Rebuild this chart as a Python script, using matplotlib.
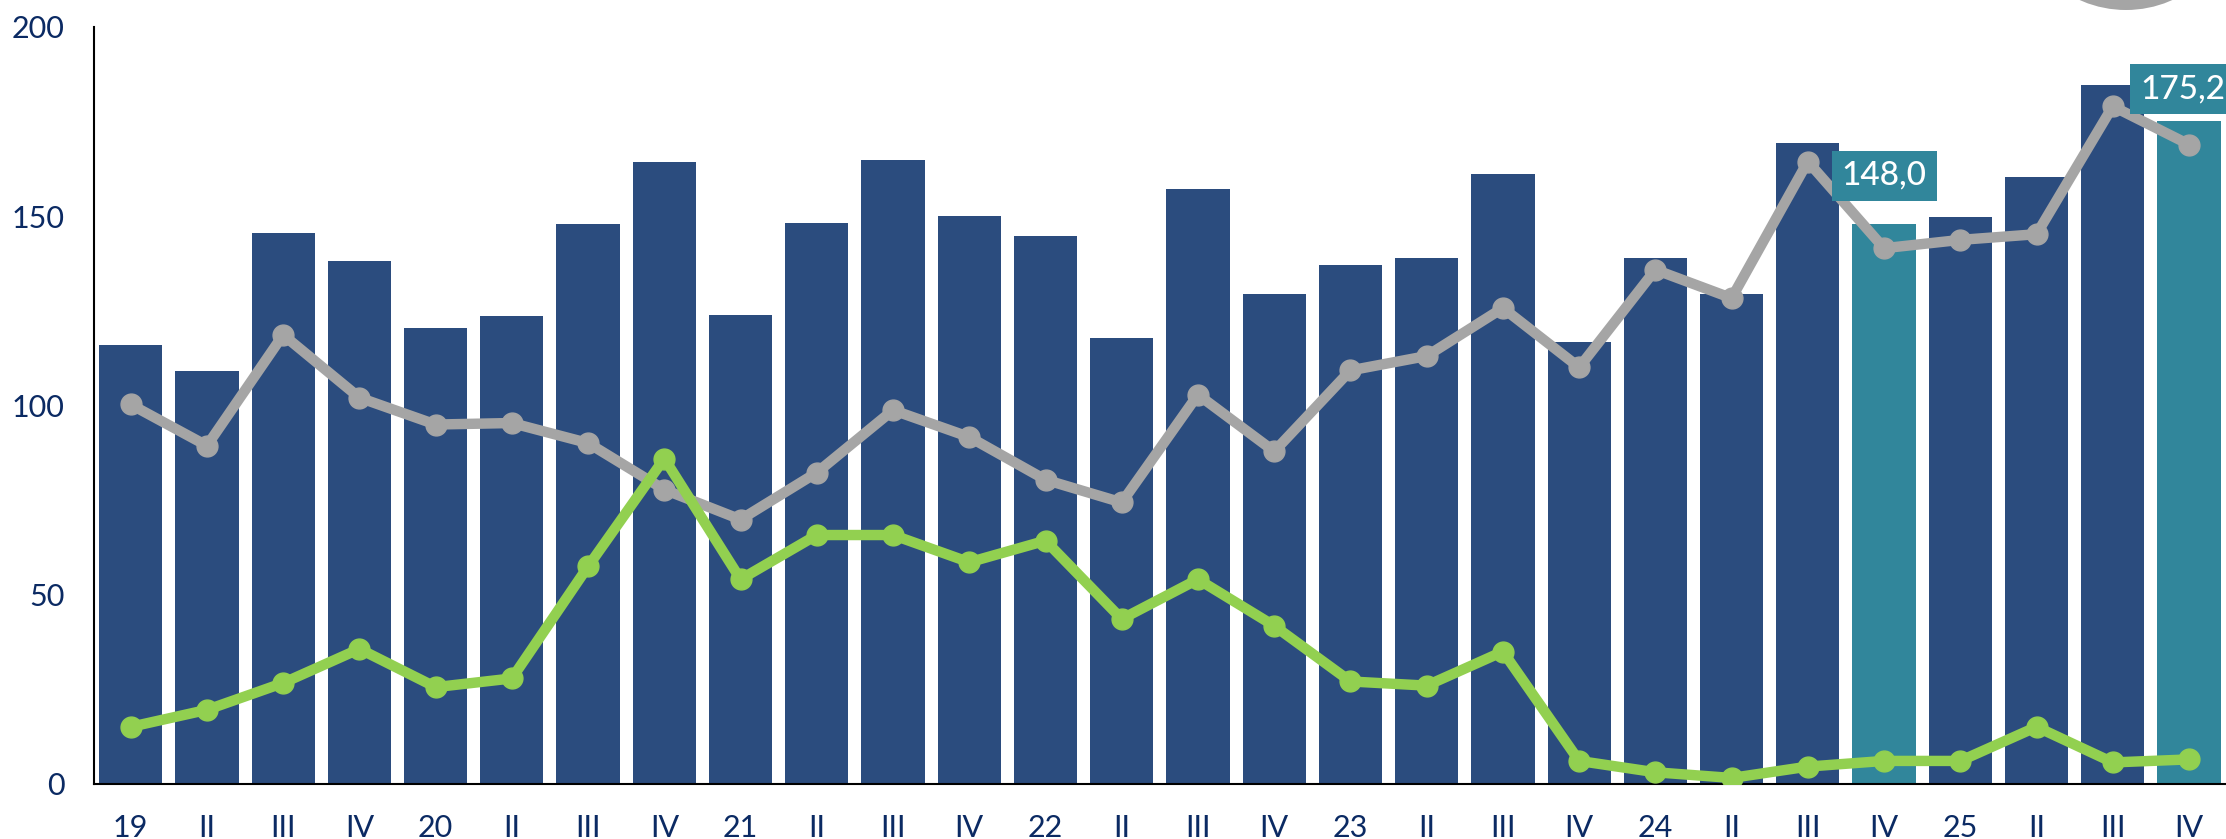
import matplotlib.pyplot as plt
from matplotlib.patches import Ellipse

# quarter labels
labels = ['19', 'II', 'III', 'IV', '20', 'II', 'III', 'IV', '21', 'II', 'III', 'IV',
          '22', 'II', 'III', 'IV', '23', 'II', 'III', 'IV', '24', 'II', 'III', 'IV',
          '25', 'II', 'III', 'IV']

# bar values
bars = [116, 109, 145.6, 138, 120.5, 123.5, 147.8, 164.4, 123.8, 148.2, 164.7, 150.1,
        144.8, 117.8, 157.2, 129.5, 137, 138.8, 161, 116.7, 138.8, 129.5, 169.2, 148.0,
        149.7, 160.2, 184.6, 175.2]

# gray line
gray = [100.2, 89.3, 118.6, 102, 94.9, 95.3, 90, 77.7, 69.8, 82.2, 98.7, 91.6,
        80.3, 74.3, 102.8, 87.8, 109.2, 113, 125.7, 110, 135.8, 128.3, 164.4, 141.5,
        143.7, 145.2, 179, 168.9]

# green line
green = [15, 19.5, 26.6, 35.6, 25.5, 27.8, 57.4, 85.9, 54, 65.7, 65.7, 58.5,
         64.2, 43.5, 54, 41.7, 27, 25.9, 34.9, 6, 3, 1.5, 4.5, 6,
         6, 15, 5.6, 6.4]

# highlighted bars and their labels
highlight = [23, 27]
highlight_text = ['148,0', '175,2']
highlight_label_y = [160.6, 183.5]
highlight_label_dx = [0, -0.08]

navy = '#2B4C7E'
teal = '#31869B'
gray_c = '#A5A5A5'
green_c = '#92D050'
text_c = '#0B2A63'

plt.rcParams['font.family'] = ['Lato', 'DejaVu Sans']

fig = plt.figure(figsize=(22.26, 8.39), dpi=100)
ax = fig.add_axes([0.0421, 0.066, 0.9579, 0.902])

x = list(range(len(labels)))
colors = [teal if i in highlight else navy for i in x]
ax.bar(x, bars, width=0.83, color=colors, zorder=1)

ax.plot(x, gray, color=gray_c, lw=7.5, marker='o', ms=15, zorder=2)
ax.plot(x, green, color=green_c, lw=7.5, marker='o', ms=15, zorder=3)

for i, t, yv, dx in zip(highlight, highlight_text, highlight_label_y, highlight_label_dx):
    ax.text(i + dx, yv, t, ha='center', va='center', color='white', fontsize=24,
            fontweight='medium',
            bbox=dict(boxstyle='square,pad=0.3', fc=teal, ec='none'), zorder=4,
            clip_on=False)

ax.set_xlim(-0.485, 27.485)
ax.set_ylim(0, 200)
ax.set_yticks([0, 50, 100, 150, 200])
ax.set_xticks(x)
ax.set_xticklabels(labels)
ax.tick_params(axis='both', length=0, labelsize=22, labelcolor=text_c)
ax.tick_params(axis='y', pad=21)
ax.tick_params(axis='x', pad=22)

for s in ['top', 'right']:
    ax.spines[s].set_visible(False)
for s in ['left', 'bottom']:
    ax.spines[s].set_linewidth(1.5)
    ax.spines[s].set_color('black')

# decorative disk cut by the top edge
fig.patches.append(Ellipse((2126 / 2226, 1 + 103 / 839), 226 / 2226, 226 / 839,
                           transform=fig.transFigure, fc=gray_c, ec='none'))

fig.savefig('out.png', dpi=100)
